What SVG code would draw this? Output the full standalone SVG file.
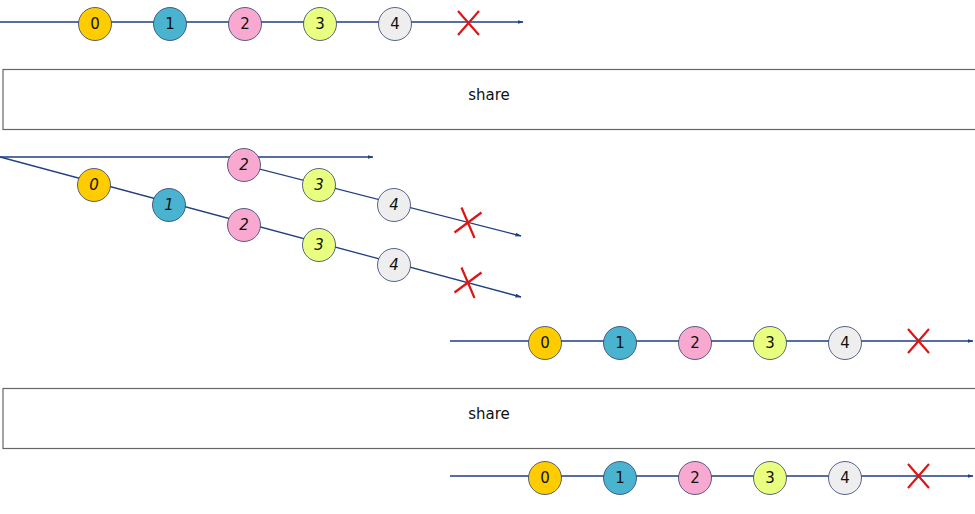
<svg xmlns="http://www.w3.org/2000/svg" width="975" height="514" viewBox="0 0 975 514">
<style>
.ln{stroke:#1f3f7f;stroke-width:1.3;fill:none}
.c{stroke:#2f3f6f;stroke-width:0.8}
.t{font-family:"DejaVu Sans",sans-serif;font-size:15px;text-anchor:middle;dominant-baseline:central;fill:#111}
.i{font-style:italic}
.x{stroke:#dd1515;stroke-width:2.2}
.box{fill:#fff;stroke:#666;stroke-width:1.2}
.c0{fill:#ffcc00}.c1{fill:#4ab3d0}.c2{fill:#f9a8d0}.c3{fill:#e9ff80}.c4{fill:#eeeeee}
</style>
<defs>
<marker id="ah" markerWidth="6" markerHeight="4" refX="5.5" refY="2" orient="auto" markerUnits="userSpaceOnUse">
<path d="M0,0 L6,2 L0,4 Z" fill="#1f3f7f"/>
</marker>
</defs>
<g id="connectors">
<line class="ln" x1="0" y1="22" x2="523" y2="22" marker-end="url(#ah)"/>
<line class="ln" x1="0" y1="157" x2="373" y2="157" marker-end="url(#ah)"/>
<line class="ln" x1="0" y1="157" x2="521" y2="297" marker-end="url(#ah)"/>
<line class="ln" x1="244" y1="165" x2="521" y2="236" marker-end="url(#ah)"/>
<line class="ln" x1="450" y1="341" x2="973" y2="341" marker-end="url(#ah)"/>
<line class="ln" x1="450" y1="476" x2="973" y2="476" marker-end="url(#ah)"/>
</g>
<g id="top">
<g id="t0"><circle class="c c0" cx="95" cy="24" r="16.5"/><text class="t" x="95" y="24">0</text></g>
<g id="t1"><circle class="c c1" cx="170" cy="24" r="16.5"/><text class="t" x="170" y="24">1</text></g>
<g id="t2"><circle class="c c2" cx="245" cy="24" r="16.5"/><text class="t" x="245" y="24">2</text></g>
<g id="t3"><circle class="c c3" cx="320" cy="24" r="16.5"/><text class="t" x="320" y="24">3</text></g>
<g id="t4"><circle class="c c4" cx="395" cy="24" r="16.5"/><text class="t" x="395" y="24">4</text></g>
<g id="tx"><path class="x" d="M458,11 L479,35 M479,11 L458,35"/></g>
</g>
<g id="share1"><rect class="box" x="3" y="69.5" width="974" height="60"/><text class="t" x="489" y="95">share</text></g>
<g id="mid">
<g id="m0"><circle class="c c0" cx="94" cy="185" r="16.5"/><text class="t i" x="94" y="185">0</text></g>
<g id="m1"><circle class="c c1" cx="169" cy="205" r="16.5"/><text class="t i" x="169" y="205">1</text></g>
<g id="m2"><circle class="c c2" cx="244" cy="225" r="16.5"/><text class="t i" x="244" y="225">2</text></g>
<g id="m3"><circle class="c c3" cx="319" cy="245" r="16.5"/><text class="t i" x="319" y="245">3</text></g>
<g id="m4"><circle class="c c4" cx="394" cy="265" r="16.5"/><text class="t i" x="394" y="265">4</text></g>
<g id="mx"><path class="x" d="M454.5,292.5 L481.5,272.5 M461.5,267.5 L474.5,298"/></g>
<g id="n2"><circle class="c c2" cx="244" cy="165" r="16.5"/><text class="t i" x="244" y="165">2</text></g>
<g id="n3"><circle class="c c3" cx="319" cy="185" r="16.5"/><text class="t i" x="319" y="185">3</text></g>
<g id="n4"><circle class="c c4" cx="394" cy="205" r="16.5"/><text class="t i" x="394" y="205">4</text></g>
<g id="nx"><path class="x" d="M454.5,232.5 L481.5,212.5 M461.5,207.5 L474.5,238"/></g>
</g>
<g id="out1">
<g id="a0"><circle class="c c0" cx="545" cy="343" r="16.5"/><text class="t" x="545" y="343">0</text></g>
<g id="a1"><circle class="c c1" cx="620" cy="343" r="16.5"/><text class="t" x="620" y="343">1</text></g>
<g id="a2"><circle class="c c2" cx="695" cy="343" r="16.5"/><text class="t" x="695" y="343">2</text></g>
<g id="a3"><circle class="c c3" cx="770" cy="343" r="16.5"/><text class="t" x="770" y="343">3</text></g>
<g id="a4"><circle class="c c4" cx="845" cy="343" r="16.5"/><text class="t" x="845" y="343">4</text></g>
<g id="ax"><path class="x" d="M908,329 L929,353 M929,329 L908,353"/></g>
</g>
<g id="share2"><rect class="box" x="3" y="388.5" width="974" height="60"/><text class="t" x="489" y="414">share</text></g>
<g id="out2">
<g id="b0"><circle class="c c0" cx="545" cy="478" r="16.5"/><text class="t" x="545" y="478">0</text></g>
<g id="b1"><circle class="c c1" cx="620" cy="478" r="16.5"/><text class="t" x="620" y="478">1</text></g>
<g id="b2"><circle class="c c2" cx="695" cy="478" r="16.5"/><text class="t" x="695" y="478">2</text></g>
<g id="b3"><circle class="c c3" cx="770" cy="478" r="16.5"/><text class="t" x="770" y="478">3</text></g>
<g id="b4"><circle class="c c4" cx="845" cy="478" r="16.5"/><text class="t" x="845" y="478">4</text></g>
<g id="bx"><path class="x" d="M908,464 L929,488 M929,464 L908,488"/></g>
</g>
</svg>
